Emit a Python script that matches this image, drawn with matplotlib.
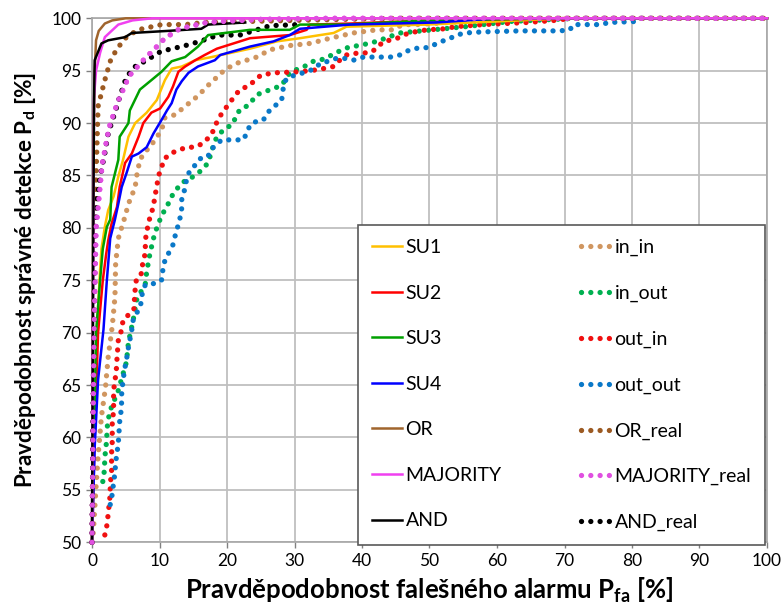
import matplotlib
matplotlib.use("Agg")
import matplotlib.pyplot as plt

plt.rcParams['font.family'] = ['Lato', 'DejaVu Sans']
plt.rcParams['mathtext.fontset'] = 'custom'
plt.rcParams['mathtext.rm'] = 'Lato'
plt.rcParams['mathtext.bf'] = 'Lato:bold'

# ---- data (Pfa [%], Pd [%]) ----
su1_x = [0, 0.3, 0.7, 1.2, 1.4, 1.9, 2.4, 3.2, 3.9, 4.6, 5.4, 6.4, 8.1, 9.6, 10.8, 11.8, 13.3, 15.3, 17.7, 23.4, 27.4, 30.8, 35.8, 37.7, 49.6, 60, 70, 100]
su1_y = [50, 60, 70, 76, 78, 80.1, 81.7, 83.0, 84.9, 86.5, 88.7, 90.0, 91.0, 92.2, 94.1, 95.2, 95.4, 96.0, 96.3, 97.1, 97.8, 98.1, 98.6, 99.2, 99.4, 99.7, 100, 100]

su2_x = [0, 0.4, 0.9, 1.6, 2.1, 2.4, 2.9, 3.7, 4.1, 4.9, 5.9, 6.9, 7.6, 8.8, 10.1, 11.3, 12.0, 12.8, 13.8, 15.3, 16.7, 18.5, 23.4, 29.3, 31.8, 32.3, 38.2, 50, 70, 100]
su2_y = [50, 60, 70, 75, 77.5, 78.8, 80.4, 82.0, 83.9, 86.2, 87.1, 88.7, 90.0, 91.0, 91.4, 92.5, 93.5, 94.9, 95.4, 96.0, 96.5, 97.1, 98.1, 98.4, 98.9, 99.4, 99.5, 99.8, 100, 100]

su3_x = [0, 0.3, 0.6, 1.2, 1.6, 2.2, 2.7, 2.9, 3.9, 4.1, 5.4, 5.6, 7.1, 8.8, 10.3, 11.8, 13.8, 15.7, 17.2, 23.4, 29.3, 30.8, 37.5, 50, 70, 100]
su3_y = [50, 60, 70, 75, 78, 80.1, 80.8, 83.9, 86.5, 88.7, 90.0, 91.2, 93.2, 94.1, 94.9, 95.9, 96.3, 97.3, 98.4, 98.9, 98.9, 99.4, 99.4, 99.8, 100, 100]

su4_x = [0, 0.4, 0.9, 1.7, 2.2, 2.7, 3.4, 3.9, 4.4, 5.1, 5.9, 6.9, 8.1, 9.1, 10.3, 11.1, 11.8, 12.5, 13.3, 14.3, 15.7, 18.2, 19.0, 23.4, 26.9, 29.3, 30.8, 38.2, 51, 60, 100]
su4_y = [50, 59.1, 65.5, 70.3, 75.0, 79.0, 80.8, 82.3, 83.9, 85.2, 86.8, 87.1, 87.7, 89.0, 90.3, 91.2, 91.9, 93.2, 94.0, 94.8, 95.4, 96.0, 96.5, 97.3, 97.8, 98.4, 99.0, 99.4, 99.6, 100, 100]

or_x = [0, 0.2, 0.4, 0.6, 1.0, 1.9, 3.0, 5.0, 100]
or_y = [50, 88, 95, 97.9, 98.8, 99.5, 99.8, 100, 100]

maj_x = [0, 0.2, 0.3, 0.6, 1.2, 1.9, 3.9, 6.0, 8.9, 100]
maj_y = [50, 80, 92.5, 95, 96.7, 98.2, 99.4, 99.8, 100, 100]

and_x = [0, 0.2, 0.3, 0.4, 1.4, 2.4, 4.9, 5.9, 11.3, 16.2, 17.2, 22.7]
and_y = [50, 80, 92, 96, 97.6, 97.9, 98.2, 98.6, 98.8, 99.0, 99.4, 99.6]

inin_x = [0, 0.2, 0.6, 0.9, 1.4, 2.0, 2.4, 3.0, 3.4, 3.5, 3.9, 4.9, 5.4, 6.4, 6.6, 7.1, 7.9, 8.6, 9.3, 10.3, 10.8, 12.3, 13.8, 15.7, 17.2, 19.7, 21.4, 24.4, 26.4, 29.3, 32.3, 35.3, 38.7, 42.2, 44.6, 46.0, 48.0, 55, 65, 100]
inin_y = [50, 51, 55.3, 58.2, 62.0, 64.8, 67.7, 70.6, 73.4, 76.6, 79.0, 81.1, 82.3, 83.9, 84.9, 86.5, 87.3, 87.7, 88.4, 89.3, 90.5, 90.8, 91.6, 92.6, 93.6, 95.1, 95.7, 96.3, 97.0, 97.4, 97.6, 98.1, 98.6, 98.9, 98.9, 99.4, 99.4, 99.7, 100, 100]

inout_x = [1.6, 1.8, 1.9, 2.0, 2.2, 2.2, 2.4, 2.7, 3.9, 5.1, 5.4, 6.1, 6.6, 7.9, 8.1, 8.6, 9.3, 9.8, 10.3, 11.1, 11.6, 12.3, 13.3, 15.3, 16.2, 17.2, 18.0, 18.5, 19.7, 20.7, 21.9, 23.2, 24.4, 25.6, 26.9, 28.1, 28.6, 29.3, 30.6, 31.8, 32.8, 33.8, 35.0, 36.0, 37.2, 38.2, 39.7, 40.9, 42.2, 45.6, 55.3, 62, 72, 100]
inout_y = [55.8, 56.7, 57.9, 58.8, 59.8, 60.7, 61.7, 62.6, 64.5, 67.2, 69.1, 71.2, 73.1, 74.7, 75.8, 77.6, 79.5, 80.3, 81.2, 82.0, 82.8, 83.5, 84.3, 85.0, 85.5, 86.2, 87.9, 88.7, 89.5, 89.8, 91.3, 91.7, 92.7, 93.0, 93.3, 93.6, 94.1, 94.8, 95.2, 95.5, 95.9, 96.0, 96.3, 96.7, 97.0, 97.3, 97.4, 97.6, 97.8, 98.6, 99.2, 99.7, 100, 100]

outin_x = [1.9, 2.2, 2.4, 2.7, 2.7, 2.9, 2.9, 2.9, 3.0, 3.0, 3.0, 3.2, 3.2, 3.2, 3.4, 3.6, 3.7, 3.9, 4.4, 4.6, 6.2, 6.3, 6.4, 6.6, 7.4, 7.5, 7.9, 7.9, 8.1, 8.3, 8.6, 9.1, 9.3, 9.6, 9.8, 10.3, 10.6, 11.6, 12.8, 14.0, 15.3, 16.5, 17.7, 18.5, 19.2, 20.7, 21.9, 23.4, 24.1, 25.1, 27.1, 30.8, 33.5, 35.8, 36.7, 37.7, 39.5, 41.0, 41.9, 43.2, 44.9, 46.9, 49.6, 52.3, 53.8, 58.0, 64.4, 68.6, 71]
outin_y = [50.7, 51.6, 52.7, 54.6, 55.6, 56.6, 57.6, 58.5, 59.6, 60.6, 61.5, 62.5, 63.5, 64.5, 65.4, 66.4, 67.5, 69.3, 70.3, 71.2, 72.2, 73.3, 74.2, 75.2, 75.7, 76.6, 77.6, 78.7, 79.8, 80.1, 81.1, 82.0, 83.0, 83.9, 84.9, 85.7, 86.5, 87.1, 87.4, 87.7, 87.7, 88.1, 88.9, 90.1, 90.9, 92.2, 93.2, 93.6, 94.1, 94.6, 94.8, 94.9, 95.1, 95.4, 96.0, 96.5, 96.7, 96.7, 97.0, 97.8, 98.0, 98.6, 98.9, 99.0, 99.2, 99.4, 99.6, 99.8, 100]

outout_x = [2.7, 3.0, 3.2, 3.4, 3.5, 3.7, 3.9, 4.0, 4.1, 4.3, 4.4, 4.4, 4.6, 4.8, 5.1, 5.4, 5.9, 6.1, 7.2, 7.4, 7.9, 9.3, 10.3, 10.5, 10.8, 12.0, 12.3, 13.0, 13.3, 13.3, 13.8, 14.0, 14.5, 15.3, 16.0, 17.2, 17.5, 19.2, 20.9, 22.4, 22.9, 23.4, 24.1, 25.4, 25.9, 26.6, 27.6, 28.1, 28.3, 28.6, 29.1, 30.3, 31.8, 33.0, 33.8, 35.0, 36.3, 37.2, 38.7, 40.2, 42.7, 44.2, 45.6, 47.1, 48.6, 49.8, 51.1, 51.8, 52.8, 54.0, 55.3, 57.7, 63.4, 69.3, 70.8, 71.3, 75.5, 76.5, 80.8]
outout_y = [53.6, 54.6, 55.7, 56.6, 57.6, 58.5, 59.5, 60.5, 61.5, 62.5, 63.5, 64.4, 65.4, 66.4, 67.4, 68.6, 70.3, 71.2, 72.6, 73.6, 74.6, 74.7, 75.0, 76.0, 76.9, 78.4, 79.2, 80.8, 81.9, 82.8, 83.8, 84.6, 85.5, 86.0, 86.6, 86.8, 87.4, 88.4, 88.4, 88.4, 89.0, 89.8, 90.1, 90.3, 90.9, 91.4, 91.9, 92.2, 93.2, 94.0, 94.4, 94.6, 94.9, 95.2, 95.7, 95.9, 96.2, 96.2, 96.0, 96.3, 96.3, 96.3, 96.5, 97.0, 97.2, 97.2, 97.6, 97.8, 98.0, 98.4, 98.6, 98.7, 98.8, 98.8, 98.9, 99.4, 99.4, 99.6, 99.7]

orr_x = [0, 0.3, 0.6, 0.9, 1.9, 2.7, 3.7, 5.1, 6.8, 10.3, 13.8, 16.7, 30, 45, 100]
orr_y = [50, 70, 85, 91.6, 94.1, 95.9, 97.1, 98.2, 98.9, 99.4, 99.4, 99.6, 99.8, 100, 100]

majr_x = [0, 0.3, 0.6, 1.5, 2.5, 3.8, 5.5, 7.6, 9.6, 10.8, 13.0, 17.0, 25.0, 35.0, 100]
majr_y = [50, 70, 80, 86, 89.5, 92, 94.5, 96.0, 97.3, 98.1, 99.0, 99.6, 99.9, 100, 100]

andr_x = [0, 0.2, 0.4, 0.7, 1.2, 1.9, 2.4, 3.2, 3.7, 4.1, 5.1, 6.4, 8.1, 10.1, 11.8, 13.3, 16.0, 18.7, 21.9, 23.4, 26.4, 30.8]
andr_y = [50, 65, 79.2, 82.3, 84.9, 87.1, 89.0, 90.6, 91.6, 92.5, 94.4, 95.4, 96.0, 96.8, 97.1, 97.3, 97.8, 98.4, 98.4, 98.7, 99.3, 99.4]

x_ticks = [0, 10, 20, 30, 40, 50, 60, 70, 80, 90, 100]
y_ticks = [50, 55, 60, 65, 70, 75, 80, 85, 90, 95, 100]

solid_series = [
    ("SU1", su1_x, su1_y, "#FFC000"),
    ("SU2", su2_x, su2_y, "#FF0000"),
    ("SU3", su3_x, su3_y, "#00A000"),
    ("SU4", su4_x, su4_y, "#0000FF"),
    ("OR", or_x, or_y, "#A0652D"),
    ("MAJORITY", maj_x, maj_y, "#F040F0"),
    ("AND", and_x, and_y, "#000000"),
]
dotted_series = [
    ("in_in", inin_x, inin_y, "#D09660"),
    ("in_out", inout_x, inout_y, "#00B050"),
    ("out_in", outin_x, outin_y, "#F01010"),
    ("out_out", outout_x, outout_y, "#0A78C8"),
    ("OR_real", orr_x, orr_y, "#9C5A22"),
    ("MAJORITY_real", majr_x, majr_y, "#E050E0"),
    ("AND_real", andr_x, andr_y, "#000000"),
]

fig = plt.figure(figsize=(7.83, 6.12), dpi=100)
ax = fig.add_axes([92/783, 1-542.3/612, 675/783, 524/612])

dot_style = (0, (0.01, 1.75))
handles_s, handles_d = [], []
for name, xs, ys, c in dotted_series:
    h, = ax.plot(xs, ys, color=c, lw=3.8, linestyle=dot_style,
                 dash_capstyle='round', clip_on=False, label=name, zorder=3)
    handles_d.append(h)
for name, xs, ys, c in solid_series:
    h, = ax.plot(xs, ys, color=c, lw=1.8, clip_on=False, label=name, zorder=4)
    handles_s.append(h)
# MAJORITY_real dots stay visible along the upper edge
ax.plot(majr_x, majr_y, color="#E050E0", lw=3.8, linestyle=dot_style,
        dash_capstyle='round', clip_on=False, zorder=5)

ax.set_xlim(0, 100)
ax.set_ylim(50, 100)
ax.set_xticks(x_ticks)
ax.set_yticks(y_ticks)
ax.tick_params(axis='both', labelsize=12.5, length=4, color='#808080', width=1)
ax.grid(True, color='#BFBFBF', lw=1.3)
ax.set_axisbelow(True)
for s in ax.spines.values():
    s.set_color('#A6A6A6')
    s.set_linewidth(1.2)

ax.set_xlabel("Pravděpodobnost falešného alarmu P$_\\mathbf{fa}$ [%]",
              fontsize=18.5, fontweight='bold', labelpad=5)
ax.set_ylabel("Pravděpodobnost správné detekce P$_\\mathbf{d}$ [%]",
              fontsize=16.2, fontweight='bold', labelpad=10)

leg = ax.legend(handles_s + handles_d, [h.get_label() for h in handles_s + handles_d],
                ncol=2, loc='lower left', bbox_to_anchor=(0.394, -0.005, 0.603, 0.608),
                mode='expand', borderaxespad=0, fontsize=14, labelspacing=1.47,
                handlelength=1.55, handletextpad=0.2, borderpad=0.7,
                frameon=True, fancybox=False, framealpha=1, edgecolor='#595959')
leg.get_frame().set_linewidth(1.2)
leg.set_zorder(10)

fig.savefig("out.png", dpi=100)
